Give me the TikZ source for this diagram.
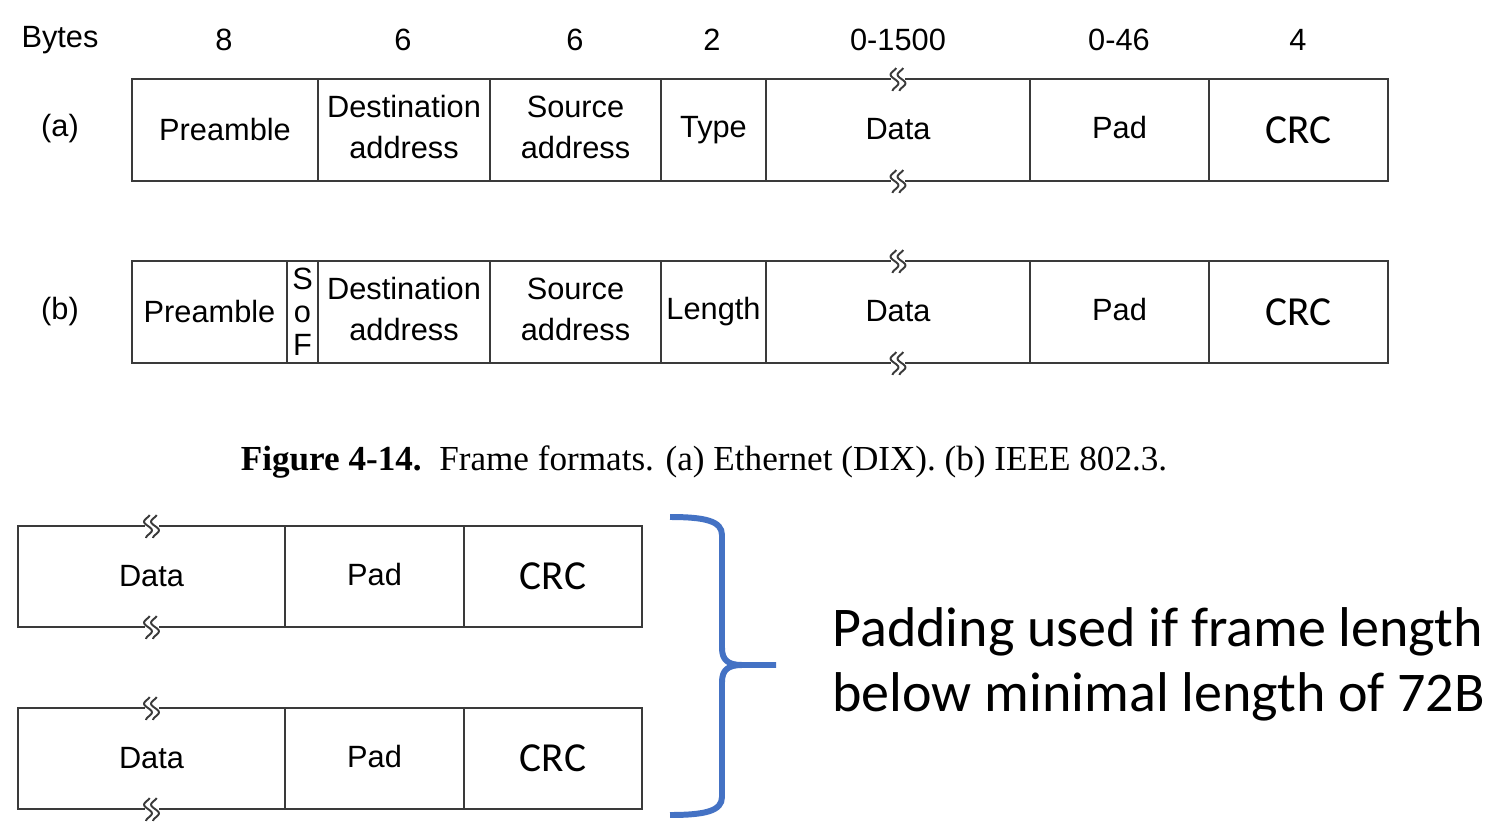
\documentclass[tikz,border=0pt]{standalone}
\usepackage{fontspec}
\setmainfont{Liberation Sans}
\newfontfamily\carlito{Carlito}
\newfontfamily\timesf{Liberation Serif}
\definecolor{framegray}{HTML}{3A3A3A}
\definecolor{braceblue}{HTML}{4472C4}
\newcommand{\twoline}[2]{\raisebox{1.7pt}{\begin{tabular}{@{}c@{}}#1\\#2\end{tabular}}}
\begin{document}
\begin{tikzpicture}[x=0.02cm,y=-0.02cm,
  field/.style={draw=framegray,line width=1.1pt,rectangle,inner sep=0pt,outer sep=0pt,
    align=center,font=\fontsize{17.5}{23}\selectfont},
  lbl/.style={inner sep=0pt,font=\fontsize{17.5}{21}\selectfont},
  crc/.style={font=\carlito\fontsize{23.5}{28}\selectfont},
  brk/.pic={
    \fill[white] (-7,-2.5) rectangle (7,2.5);
    \draw[framegray,line width=1.6pt] (-17,0) -- (-8,0) (8,0) -- (17,0);
    \foreach \s in {-3.5,3.5}{
      \draw[framegray,line width=1.1pt] plot[smooth,domain=-11:12,samples=30] ({\s+3.4*sin(\x*22)+0.12*\x},\x);
    }
  }]
\useasboundingbox (0,0) rectangle (1504,828);

% header
\node[lbl] (hb) at (60,40) {Bytes};
\node[lbl] (h1) at (224,40) {8};
\node[lbl] (h2) at (403,40) {6};
\node[lbl] (h3) at (575,40) {6};
\node[lbl] (h4) at (712,40) {2};
\node[lbl] (h5) at (898,40) {0-1500};
\node[lbl] (h6) at (1119,40) {0-46};
\node[lbl] (h7) at (1298,40) {4};

% frame (a)
\node[lbl] (la) at (60,129) {(a)};
\node[field,minimum width=3.72cm,minimum height=2.04cm] (aPre) at (225,130) {\raisebox{1pt}{Preamble}};
\node[field,minimum width=3.44cm,minimum height=2.04cm] (aDst) at (404,130) {\twoline{Destination}{address}};
\node[field,minimum width=3.42cm,minimum height=2.04cm] (aSrc) at (575.5,130) {\twoline{Source}{address}};
\node[field,minimum width=2.10cm,minimum height=2.04cm] (aTyp) at (713.5,130) {Type};
\node[field,minimum width=5.28cm,minimum height=2.04cm] (aDat) at (898,130) {\raisebox{1pt}{Data}};
\node[field,minimum width=3.58cm,minimum height=2.04cm] (aPad) at (1119.5,130) {\raisebox{3pt}{Pad}};
\node[field,minimum width=3.58cm,minimum height=2.04cm,crc] (aCRC) at (1298.5,130) {\raisebox{-2pt}{CRC}};
\pic at (aDat.north) {brk};
\pic at (aDat.south) {brk};

% frame (b)
\node[lbl] (lb) at (60,312) {(b)};
\node[field,minimum width=3.10cm,minimum height=2.04cm] (bPre) at (209.5,312) {Preamble};
\node[field,minimum width=0.62cm,minimum height=2.04cm,font=\fontsize{17.5}{18.7}\selectfont] (bSoF) at (302.5,312) {S\\o\\F};
\node[field,minimum width=3.44cm,minimum height=2.04cm] (bDst) at (404,312) {\twoline{Destination}{address}};
\node[field,minimum width=3.42cm,minimum height=2.04cm] (bSrc) at (575.5,312) {\twoline{Source}{address}};
\node[field,minimum width=2.10cm,minimum height=2.04cm] (bLen) at (713.5,312) {Length};
\node[field,minimum width=5.28cm,minimum height=2.04cm] (bDat) at (898,312) {\raisebox{1pt}{Data}};
\node[field,minimum width=3.58cm,minimum height=2.04cm] (bPad) at (1119.5,312) {\raisebox{3pt}{Pad}};
\node[field,minimum width=3.58cm,minimum height=2.04cm,crc] (bCRC) at (1298.5,312) {\raisebox{-2pt}{CRC}};
\pic at (bDat.north) {brk};
\pic at (bDat.south) {brk};

% caption
\node[font=\timesf\fontsize{20}{24}\selectfont] (cap) at (704,462)
  {\textbf{Figure 4-14.}\ \ Frame formats. (a) Ethernet (DIX). (b) IEEE 802.3.};

% lower frames
\node[field,minimum width=5.34cm,minimum height=2.02cm] (cDat) at (151.5,576.5) {\raisebox{1pt}{Data}};
\node[field,minimum width=3.58cm,minimum height=2.02cm] (cPad) at (374.5,576.5) {\raisebox{3pt}{Pad}};
\node[field,minimum width=3.56cm,minimum height=2.02cm,crc] (cCRC) at (553,576.5) {\raisebox{-2pt}{CRC}};
\pic at (cDat.north) {brk};
\pic at (cDat.south) {brk};

\node[field,minimum width=5.34cm,minimum height=2.02cm] (dDat) at (151.5,758.5) {\raisebox{1pt}{Data}};
\node[field,minimum width=3.58cm,minimum height=2.02cm] (dPad) at (374.5,758.5) {\raisebox{3pt}{Pad}};
\node[field,minimum width=3.56cm,minimum height=2.02cm,crc] (dCRC) at (553,758.5) {\raisebox{-2pt}{CRC}};
\pic at (dDat.north) {brk};
\pic at (dDat.south) {brk};

% brace
\draw[braceblue,line width=3.4pt,line cap=butt]
  (670,517) .. controls (705,517) and (722,521) .. (722,535) -- (722,648)
  .. controls (722,660) and (728,665) .. (742,665) -- (776,665);
\draw[braceblue,line width=3.4pt,line cap=butt]
  (742,665) .. controls (728,665) and (722,670) .. (722,682) -- (722,797)
  .. controls (722,811) and (705,815) .. (670,815);

% note
\node[anchor=west,align=left,inner sep=0pt,font=\carlito\fontsize{31.9}{36.9}\selectfont] (note) at (832,664)
  {Padding used if frame length\\below minimal length of 72B};
\end{tikzpicture}
\end{document}
